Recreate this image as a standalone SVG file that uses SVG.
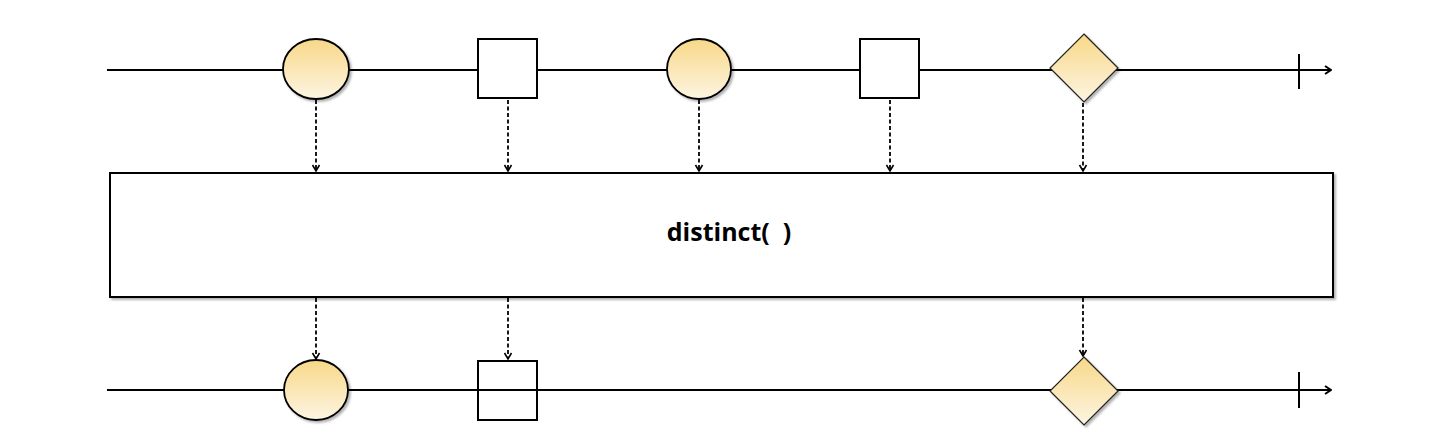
<svg xmlns="http://www.w3.org/2000/svg" width="1456" height="448" viewBox="0 0 1456 448">
<defs>
<linearGradient id="g" x1="0" y1="0" x2="0" y2="1">
<stop offset="0" stop-color="#F8D888"/>
<stop offset="1" stop-color="#FDF5E3"/>
</linearGradient>
<filter id="sh" x="-20%" y="-20%" width="150%" height="150%">
<feDropShadow dx="2" dy="2" stdDeviation="1.2" flood-color="#000" flood-opacity="0.3"/>
</filter>
<marker id="open" viewBox="0 0 10 10" refX="9" refY="5" markerWidth="10" markerHeight="10" markerUnits="userSpaceOnUse" orient="auto">
<path d="M3,1 L9,5 L3,9" fill="none" stroke="#000" stroke-width="2"/>
</marker>
</defs>
<style>
.line{stroke:#000;stroke-width:2;fill:none}
.dash{stroke:#000;stroke-width:1.8;stroke-dasharray:4,2.5;fill:none}
.head{stroke:#000;stroke-width:1.6;fill:none}
.circ{fill:url(#g);stroke:#000;stroke-width:1.8;filter:url(#sh)}
.dia{fill:url(#g);stroke:#222;stroke-width:1.2;filter:url(#sh)}
.sq{stroke:#000;stroke-width:2}
.label{font-family:"Open Sans","Liberation Sans",sans-serif;font-weight:bold;font-size:25px;fill:#000;white-space:pre}
</style>
<g id="connectors">
<line class="line" x1="107" y1="70" x2="1331" y2="70" marker-end="url(#open)"/>
<line class="line" x1="1299" y1="54" x2="1299" y2="89"/>
<line class="line" x1="107" y1="390" x2="1331" y2="390" marker-end="url(#open)"/>
<line class="line" x1="1299" y1="372" x2="1299" y2="408"/>
<g>
<line class="dash" x1="316" y1="100" x2="316" y2="171"/>
<line class="dash" x1="508" y1="100" x2="508" y2="171"/>
<line class="dash" x1="699" y1="100" x2="699" y2="171"/>
<line class="dash" x1="890" y1="100" x2="890" y2="171"/>
<line class="dash" x1="1083" y1="103" x2="1083" y2="171"/>
<line class="dash" x1="316" y1="298" x2="316" y2="359"/>
<line class="dash" x1="508" y1="298" x2="508" y2="359"/>
<line class="dash" x1="1083" y1="298" x2="1083" y2="356"/>
</g>
<g class="head">
<path d="M312.5,165 L316,171 L319.5,165"/>
<path d="M504.5,165 L508,171 L511.5,165"/>
<path d="M695.5,165 L699,171 L702.5,165"/>
<path d="M886.5,165 L890,171 L893.5,165"/>
<path d="M1079.5,165 L1083,171 L1086.5,165"/>
<path d="M312.5,353 L316,359 L319.5,353"/>
<path d="M504.5,353 L508,359 L511.5,353"/>
<path d="M1079.5,350 L1083,356 L1086.5,350"/>
</g>
</g>
<g id="top-circle-1"><ellipse class="circ" cx="316" cy="69" rx="33" ry="30"/></g>
<g id="top-square-1"><rect class="sq" x="478" y="39" width="59" height="59" fill="#fff"/></g>
<g id="top-circle-2"><ellipse class="circ" cx="699" cy="69" rx="32" ry="30"/></g>
<g id="top-square-2"><rect class="sq" x="860" y="39" width="59" height="59" fill="#fff"/></g>
<g id="top-diamond"><polygon class="dia" points="1084,34 1118,68 1084,102 1050,68"/></g>
<g id="operator">
<rect x="110" y="173" width="1223" height="124" fill="#fff" stroke="#000" stroke-width="2" filter="url(#sh)"/>
<text class="label" x="729" y="241" text-anchor="middle" xml:space="preserve">distinct(  )</text>
</g>
<g id="bottom-circle"><ellipse class="circ" cx="316" cy="390" rx="32" ry="30"/></g>
<g id="bottom-square"><rect class="sq" x="478" y="361" width="59" height="59" fill="none"/></g>
<g id="bottom-diamond"><polygon class="dia" points="1084,357 1118,391 1084,425 1050,391"/></g>
</svg>
